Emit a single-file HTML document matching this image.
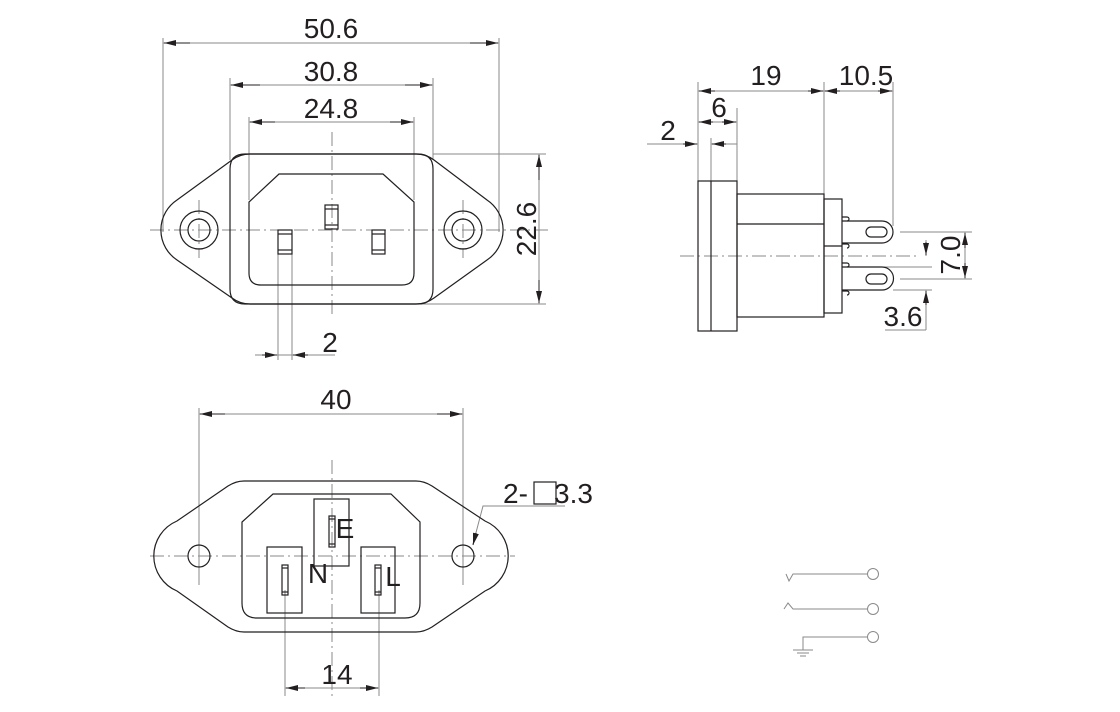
<!DOCTYPE html>
<html><head><meta charset="utf-8"><style>
html,body{margin:0;padding:0;background:#fff;}
svg{display:block;}
text{font-family:"Liberation Sans",Arial,sans-serif;font-size:28px;fill:#231f20;}
</style></head><body>
<svg width="1120" height="712" viewBox="0 0 1120 712" xmlns="http://www.w3.org/2000/svg">
<defs>
<marker id="a" viewBox="0 0 12 6" refX="12" refY="3" markerWidth="12" markerHeight="6" markerUnits="userSpaceOnUse" orient="auto"><path d="M0,0 L12,3 L0,6 Z" fill="#231f20"/></marker>
</defs>
<g fill="none" stroke="#8a8a8a" stroke-width="1">
<line x1="163" y1="38" x2="163" y2="232"/>
<line x1="499" y1="38" x2="499" y2="232"/>
<line x1="230" y1="78" x2="230" y2="160"/>
<line x1="433" y1="78" x2="433" y2="160"/>
<line x1="249" y1="117" x2="249" y2="200"/>
<line x1="414" y1="117" x2="414" y2="200"/>
<line x1="433" y1="154" x2="546" y2="154"/>
<line x1="418" y1="304" x2="546" y2="304"/>
<line x1="278" y1="250" x2="278" y2="360"/>
<line x1="292" y1="250" x2="292" y2="360"/>
<line x1="255" y1="355" x2="335" y2="355"/>
<line x1="163" y1="43" x2="499" y2="43"/>
<line x1="230" y1="85" x2="433" y2="85"/>
<line x1="249" y1="122" x2="414" y2="122"/>
<line x1="539" y1="154" x2="539" y2="304"/>
<line x1="150" y1="230" x2="552" y2="230" stroke-dasharray="14,4,2,4"/>
<line x1="332" y1="132" x2="332" y2="318" stroke-dasharray="14,4,2,4"/>
<line x1="199" y1="200" x2="199" y2="258" stroke-dasharray="14,4,2,4"/>
<line x1="463" y1="200" x2="463" y2="258" stroke-dasharray="14,4,2,4"/>

<line x1="698" y1="82" x2="698" y2="181"/>
<line x1="824" y1="82" x2="824" y2="194"/>
<line x1="893" y1="82" x2="893" y2="226"/>
<line x1="737" y1="108" x2="737" y2="181"/>
<line x1="711" y1="138" x2="711" y2="331"/>
<line x1="698" y1="91" x2="893" y2="91"/>
<line x1="698" y1="122" x2="737" y2="122"/>
<line x1="647" y1="144" x2="698" y2="144"/>
<line x1="711" y1="144" x2="737" y2="144"/>
<line x1="680" y1="256" x2="920" y2="256" stroke-dasharray="14,4,2,4"/>
<line x1="900" y1="232" x2="972" y2="232"/>
<line x1="900" y1="279" x2="972" y2="279"/>
<line x1="965" y1="232" x2="965" y2="279"/>
<line x1="842" y1="267" x2="932" y2="267"/>
<line x1="893" y1="290" x2="932" y2="290"/>
<line x1="926" y1="240" x2="926" y2="256"/>
<line x1="926" y1="290" x2="926" y2="330"/>
<line x1="885" y1="330" x2="926" y2="330"/>

<line x1="199" y1="408" x2="199" y2="585"/>
<line x1="463" y1="408" x2="463" y2="585"/>
<line x1="199" y1="414" x2="463" y2="414"/>
<line x1="150" y1="556" x2="515" y2="556" stroke-dasharray="14,4,2,4"/>
<line x1="332" y1="460" x2="332" y2="696" stroke-dasharray="14,4,2,4"/>
<line x1="285" y1="590" x2="285" y2="696"/>
<line x1="379" y1="590" x2="379" y2="696"/>
<line x1="285" y1="688" x2="379" y2="688"/>
<polyline points="565,506 483,506 473,544"/>

<polyline points="786,574 789,581 793,574 867,574"/>
<circle cx="873" cy="574" r="5.5"/>
<polyline points="784,609 788,603 793,609 867,609"/>
<circle cx="873" cy="609" r="5.5"/>
<polyline points="867,637 803,637 803,650"/>
<circle cx="873" cy="637" r="5.5"/>
<line x1="793" y1="650" x2="813" y2="650"/>
<line x1="797" y1="653" x2="809" y2="653"/>
<line x1="800" y1="656" x2="806" y2="656"/>
</g>

<g stroke="#231f20" stroke-width="1" fill="none">
<line x1="190" y1="43" x2="164" y2="43" marker-end="url(#a)"/>
<line x1="470" y1="43" x2="498" y2="43" marker-end="url(#a)"/>
<line x1="260" y1="85" x2="231" y2="85" marker-end="url(#a)"/>
<line x1="405" y1="85" x2="432" y2="85" marker-end="url(#a)"/>
<line x1="275" y1="122" x2="250" y2="122" marker-end="url(#a)"/>
<line x1="390" y1="122" x2="413" y2="122" marker-end="url(#a)"/>
<line x1="539" y1="180" x2="539" y2="155" marker-end="url(#a)"/>
<line x1="539" y1="280" x2="539" y2="303" marker-end="url(#a)"/>
<line x1="262" y1="355" x2="277" y2="355" marker-end="url(#a)"/>
<line x1="308" y1="355" x2="293" y2="355" marker-end="url(#a)"/>
<line x1="715" y1="91" x2="699" y2="91" marker-end="url(#a)"/>
<line x1="808" y1="91" x2="823" y2="91" marker-end="url(#a)"/>
<line x1="840" y1="91" x2="825" y2="91" marker-end="url(#a)"/>
<line x1="878" y1="91" x2="892" y2="91" marker-end="url(#a)"/>
<line x1="713" y1="122" x2="699" y2="122" marker-end="url(#a)"/>
<line x1="722" y1="122" x2="736" y2="122" marker-end="url(#a)"/>
<line x1="683" y1="144" x2="697" y2="144" marker-end="url(#a)"/>
<line x1="726" y1="144" x2="712" y2="144" marker-end="url(#a)"/>
<line x1="965" y1="248" x2="965" y2="233" marker-end="url(#a)"/>
<line x1="965" y1="263" x2="965" y2="278" marker-end="url(#a)"/>
<line x1="926" y1="242" x2="926" y2="255" marker-end="url(#a)"/>
<line x1="926" y1="305" x2="926" y2="291" marker-end="url(#a)"/>
<line x1="225" y1="414" x2="200" y2="414" marker-end="url(#a)"/>
<line x1="437" y1="414" x2="462" y2="414" marker-end="url(#a)"/>
<line x1="305" y1="688" x2="286" y2="688" marker-end="url(#a)"/>
<line x1="360" y1="688" x2="378" y2="688" marker-end="url(#a)"/>
<line x1="476" y1="533" x2="473" y2="545" marker-end="url(#a)"/>
</g>

<g fill="none" stroke="#231f20" stroke-width="1.2">
<path d="M250,154 L416,154 Q426,154 434,160 L487,200 A36,36 0 0 1 487,260 L434,298 Q426,304 416,304 L250,304 Q240,304 232,298 L177,260 A36,36 0 0 1 177,200 L232,160 Q240,154 250,154 Z"/>
<path d="M245,154 L418,154 Q433,154 433,169 L433,289 Q433,304 418,304 L245,304 Q230,304 230,289 L230,169 Q230,154 245,154 Z"/>
<circle cx="199" cy="230" r="19"/><circle cx="199" cy="230" r="11"/>
<circle cx="463" cy="230" r="19"/><circle cx="463" cy="230" r="11"/>
<path d="M279,174 L383,174 L414,202 L414,273 Q414,285 402,285 L261,285 Q249,285 249,273 L249,202 Z"/>
<rect x="325" y="205" width="13" height="24"/><line x1="325" y1="209" x2="338" y2="209"/><line x1="325" y1="225" x2="338" y2="225"/>
<rect x="278" y="230" width="14" height="24"/><line x1="278" y1="234" x2="292" y2="234"/><line x1="278" y1="250" x2="292" y2="250"/>
<rect x="372" y="230" width="13" height="24"/><line x1="372" y1="234" x2="385" y2="234"/><line x1="372" y1="250" x2="385" y2="250"/>

<rect x="698" y="181" width="39" height="150"/>
<line x1="711" y1="181" x2="711" y2="331"/>
<rect x="737" y="194" width="87" height="123"/>
<line x1="737" y1="224" x2="824" y2="224"/>
<rect x="824" y="199" width="18" height="114"/>
<line x1="824" y1="246" x2="842" y2="246"/>
<path d="M842,221 L882,221 A11,11 0 0 1 882,243 L842,243"/>
<path d="M842,267 L882,267 A11.5,11.5 0 0 1 882,290 L842,290"/>
<rect x="866" y="227" width="21" height="10" rx="5"/>
<rect x="866" y="274" width="21" height="10" rx="5"/>
<path d="M842,217 L847,217 A2,2 0 0 1 847,221 M842,244 L847,244 A2,2 0 0 1 847,248 M842,263 L847,263 A2,2 0 0 1 847,267 M842,291 L847,291 A2,2 0 0 1 847,295"/>

<path d="M244,481 L416,481 Q424,481 432,486 L485,521 A38,38 0 0 1 485,591 L432,627 Q424,632 416,632 L244,632 Q236,632 228,627 L177,591 A38,38 0 0 1 177,521 L228,486 Q236,481 244,481 Z"/>
<circle cx="199" cy="556" r="11"/><circle cx="463" cy="556" r="11"/>
<path d="M273,494 L391,494 L420,522 L420,603 Q420,618 405,618 L257,618 Q242,618 242,603 L242,522 Z"/>
<rect x="314" y="499" width="35" height="67"/>
<rect x="329" y="516" width="6" height="31"/><line x1="329" y1="519" x2="335" y2="519"/><line x1="329" y1="544" x2="335" y2="544"/>
<rect x="267" y="547" width="35" height="66"/>
<rect x="282" y="565" width="6" height="30"/><line x1="282" y1="568" x2="288" y2="568"/><line x1="282" y1="592" x2="288" y2="592"/>
<rect x="361" y="547" width="34" height="66"/>
<rect x="375" y="565" width="6" height="30"/><line x1="375" y1="568" x2="381" y2="568"/><line x1="375" y1="592" x2="381" y2="592"/>
<rect x="534" y="482" width="22" height="22"/>
</g>

<text x="331" y="38" text-anchor="middle">50.6</text>
<text x="331" y="81" text-anchor="middle">30.8</text>
<text x="331" y="118" text-anchor="middle">24.8</text>
<text transform="translate(536,229) rotate(-90)" text-anchor="middle">22.6</text>
<text x="330" y="352" text-anchor="middle">2</text>
<text x="766" y="85" text-anchor="middle">19</text>
<text x="866" y="85" text-anchor="middle">10.5</text>
<text x="719" y="117" text-anchor="middle">6</text>
<text x="668" y="140" text-anchor="middle">2</text>
<text transform="translate(960,255) rotate(-90)" text-anchor="middle">7.0</text>
<text x="903" y="326" text-anchor="middle">3.6</text>
<text x="336" y="409" text-anchor="middle">40</text>
<text x="337" y="684" text-anchor="middle">14</text>
<text x="345" y="538" text-anchor="middle">E</text>
<text x="318" y="583" text-anchor="middle">N</text>
<text x="393" y="586" text-anchor="middle">L</text>
<text x="503" y="503">2-</text>
<text x="554" y="503">3.3</text>
</svg>
</body></html>
